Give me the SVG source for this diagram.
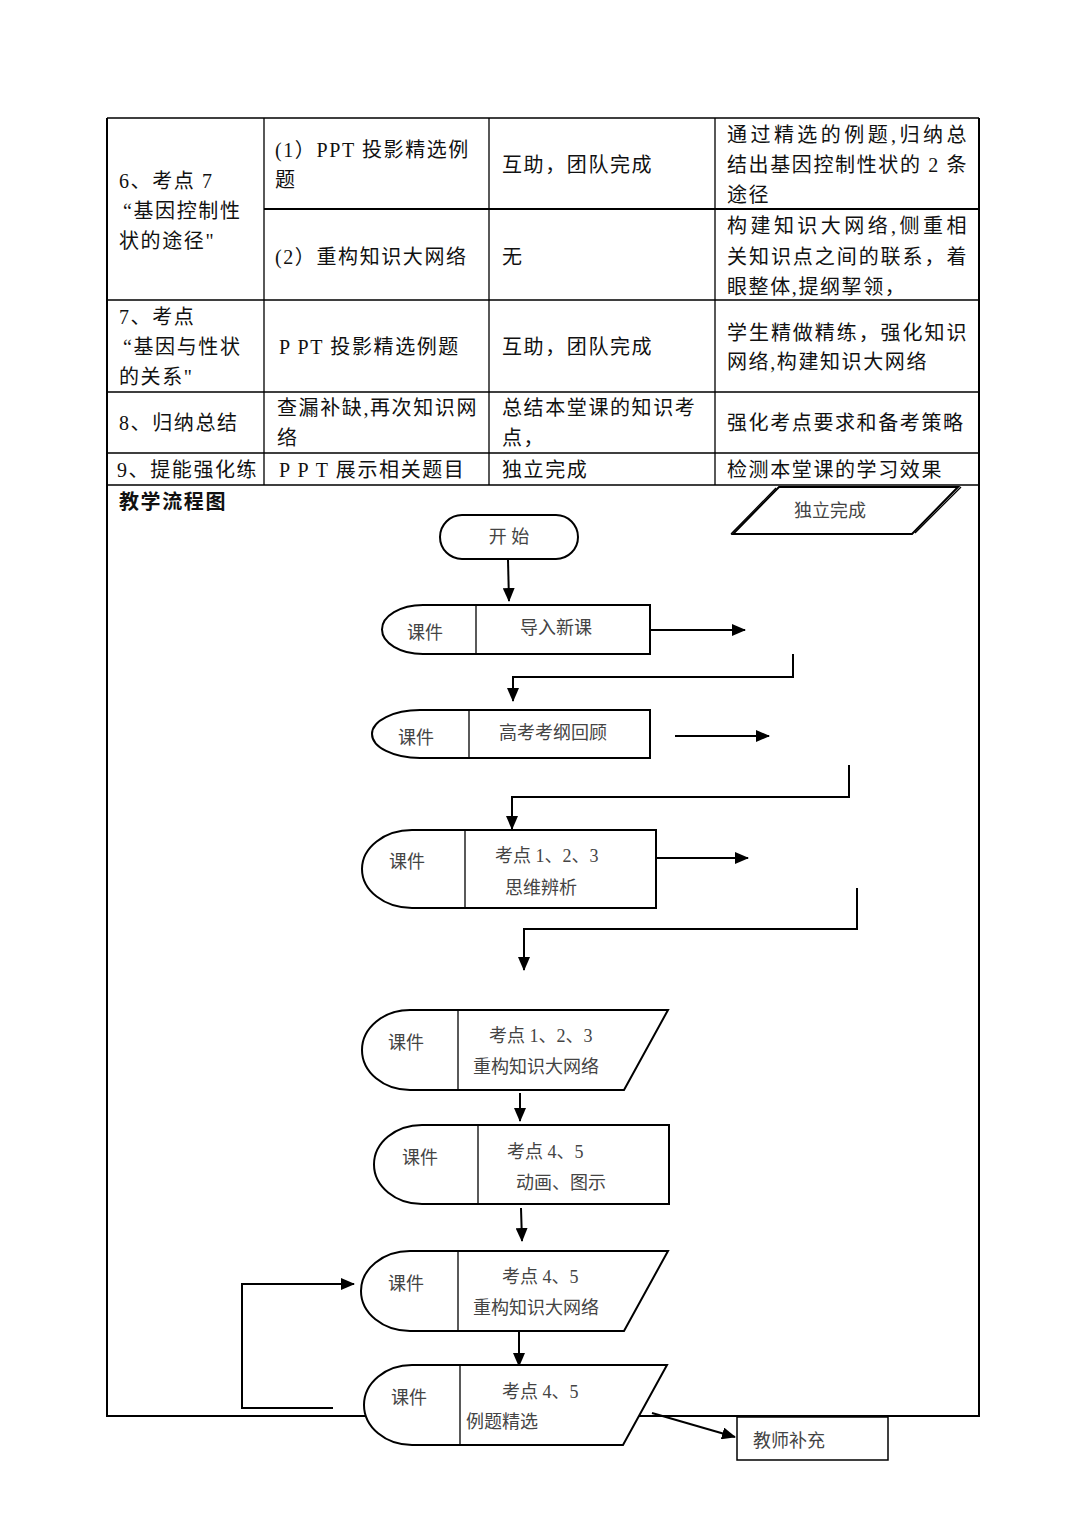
<svg xmlns="http://www.w3.org/2000/svg" width="1087" height="1536" viewBox="0 0 1087 1536">
<style>
.t{font-family:"Liberation Serif","Noto Sans CJK SC",serif;font-size:20px;fill:#111;dominant-baseline:central;letter-spacing:1.6px}
.f{font-family:"Liberation Serif","Noto Sans CJK SC",serif;font-size:18px;fill:#444;dominant-baseline:central}
.h{font-family:"Liberation Sans","Noto Sans CJK SC",sans-serif;font-size:20px;font-weight:bold;fill:#111;dominant-baseline:central;letter-spacing:1.6px}
.g{stroke:#000;stroke-width:1.3;fill:none}
.nd{stroke:#000;stroke-width:2;fill:#fff}
.dv{stroke:#000;stroke-width:1.3;fill:none}
.c{stroke:#000;stroke-width:2;fill:none;marker-end:url(#ah)}
</style>
<defs>
<marker id="ah" markerUnits="userSpaceOnUse" markerWidth="14" markerHeight="12" refX="13" refY="6" orient="auto">
<path d="M0,0 L14,6 L0,12 Z" fill="#000"/>
</marker>
</defs>
<rect width="1087" height="1536" fill="#fff"/>
<g id="table">
<path class="g" d="M107,118 H979 M107,300 H979 M107,392 H979 M107,453 H979 M107,485 H979 M264,118 V485 M489,118 V485 M715,118 V485"/>
<path d="M264,209 H979" stroke="#000" stroke-width="2.2"/>
<path d="M107,118 V1416 H979 V118" stroke="#000" stroke-width="2" fill="none"/>
<text class="t" x="119" y="181">6、考点 7</text>
<text class="t" x="123" y="211">“基因控制性</text>
<text class="t" x="119" y="241">状的途径"</text>
<text class="t" x="275" y="150">(1）PPT 投影精选例</text>
<text class="t" x="275" y="180">题</text>
<text class="t" x="502" y="165">互助，团队完成</text>
<text class="t" x="727" y="135" textLength="241" lengthAdjust="spacing">通过精选的例题,归纳总</text>
<text class="t" x="727" y="165" textLength="241" lengthAdjust="spacing">结出基因控制性状的 2 条</text>
<text class="t" x="727" y="195">途径</text>
<text class="t" x="275" y="257">(2）重构知识大网络</text>
<text class="t" x="502" y="257">无</text>
<text class="t" x="727" y="226" textLength="241" lengthAdjust="spacing">构建知识大网络,侧重相</text>
<text class="t" x="727" y="257" textLength="241" lengthAdjust="spacing">关知识点之间的联系，着</text>
<text class="t" x="727" y="287">眼整体,提纲挈领，</text>
<text class="t" x="119" y="317">7、考点</text>
<text class="t" x="123" y="347">“基因与性状</text>
<text class="t" x="119" y="377">的关系"</text>
<text class="t" x="279" y="347">P PT 投影精选例题</text>
<text class="t" x="502" y="347">互助，团队完成</text>
<text class="t" x="727" y="333" textLength="241" lengthAdjust="spacing">学生精做精练，强化知识</text>
<text class="t" x="727" y="362">网络,构建知识大网络</text>
<text class="t" x="119" y="423">8、归纳总结</text>
<text class="t" x="277" y="408">查漏补缺,再次知识网</text>
<text class="t" x="277" y="438">络</text>
<text class="t" x="502" y="408">总结本堂课的知识考</text>
<text class="t" x="502" y="438">点，</text>
<text class="t" x="727" y="423">强化考点要求和备考策略</text>
<text class="t" x="117" y="470">9、提能强化练</text>
<text class="t" x="279" y="470">P P T 展示相关题目</text>
<text class="t" x="502" y="470">独立完成</text>
<text class="t" x="727" y="470">检测本堂课的学习效果</text>
<text class="h" x="119" y="502">教学流程图</text>
</g>
<g id="connectors">
<path class="c" d="M508,560 L509,601"/>
<path class="c" d="M650,630 L745,630"/>
<path class="c" d="M793,654 V677 H513 V701"/>
<path class="c" d="M675,736 L769,736"/>
<path class="c" d="M849,765 V797 H512 V829"/>
<path class="c" d="M656,858 L748,858"/>
<path class="c" d="M857,888 V929 H524 V970"/>
<path class="c" d="M520,1093 L520,1121"/>
<path class="c" d="M521,1208 L522,1241"/>
<path class="c" d="M519,1331 L519,1366"/>
<path class="c" d="M333,1408 H242 V1284 H354"/>
<path class="c" d="M652,1413 L735,1437"/>
</g>
<g id="n-indep">
<path class="nd" d="M779,487 H958 L912,534 H733 Z"/>
<path class="dv" d="M776,488 L731,534 M961,487 L915,533"/>
<text class="f" x="830" y="511" text-anchor="middle">独立完成</text>
</g>
<g id="n-start">
<rect class="nd" x="440" y="515" width="138" height="44" rx="22"/>
<text class="f" x="509" y="537" text-anchor="middle">开  始</text>
</g>
<g id="n1">
<path class="nd" d="M423,605 H650 V654 H423 A41 24.5 0 0 1 423,605 Z"/>
<path class="dv" d="M476,605 V654"/>
<text class="f" x="425" y="633" text-anchor="middle">课件</text>
<text class="f" x="556" y="628" text-anchor="middle">导入新课</text>
</g>
<g id="n2">
<path class="nd" d="M420,710 H650 V758 H420 A48 24 0 0 1 420,710 Z"/>
<path class="dv" d="M469,710 V758"/>
<text class="f" x="416" y="738" text-anchor="middle">课件</text>
<text class="f" x="553" y="733" text-anchor="middle">高考考纲回顾</text>
</g>
<g id="n3">
<path class="nd" d="M412,830 H656 V908 H412 A50 39 0 0 1 412,830 Z"/>
<path class="dv" d="M465,830 V908"/>
<text class="f" x="407" y="862" text-anchor="middle">课件</text>
<text class="f" x="495" y="856">考点 1、2、3</text>
<text class="f" x="505" y="888">思维辨析</text>
</g>
<g id="n4">
<path class="nd" d="M410,1010 H668 L624,1090 H410 A48 40 0 0 1 410,1010 Z"/>
<path class="dv" d="M458,1010 V1090"/>
<text class="f" x="406" y="1043" text-anchor="middle">课件</text>
<text class="f" x="489" y="1036">考点 1、2、3</text>
<text class="f" x="473" y="1067">重构知识大网络</text>
</g>
<g id="n5">
<path class="nd" d="M422,1125 H669 V1204 H422 A48 39.5 0 0 1 422,1125 Z"/>
<path class="dv" d="M478,1125 V1204"/>
<text class="f" x="420" y="1158" text-anchor="middle">课件</text>
<text class="f" x="507" y="1152">考点 4、5</text>
<text class="f" x="516" y="1183">动画、图示</text>
</g>
<g id="n6">
<path class="nd" d="M410,1251 H668 L624,1331 H410 A49 40 0 0 1 410,1251 Z"/>
<path class="dv" d="M458,1251 V1331"/>
<text class="f" x="406" y="1284" text-anchor="middle">课件</text>
<text class="f" x="502" y="1277">考点 4、5</text>
<text class="f" x="473" y="1308">重构知识大网络</text>
</g>
<g id="n7">
<path class="nd" d="M412,1365 H667 L623,1445 H412 A48 40 0 0 1 412,1365 Z"/>
<path class="dv" d="M460,1365 V1445"/>
<text class="f" x="409" y="1398" text-anchor="middle">课件</text>
<text class="f" x="502" y="1392">考点 4、5</text>
<text class="f" x="466" y="1422">例题精选</text>
</g>
<g id="n-teacher">
<rect x="737" y="1417" width="151" height="43" fill="#fff" stroke="#000" stroke-width="1.5"/>
<text class="f" x="753" y="1441">教师补充</text>
</g>
</svg>
